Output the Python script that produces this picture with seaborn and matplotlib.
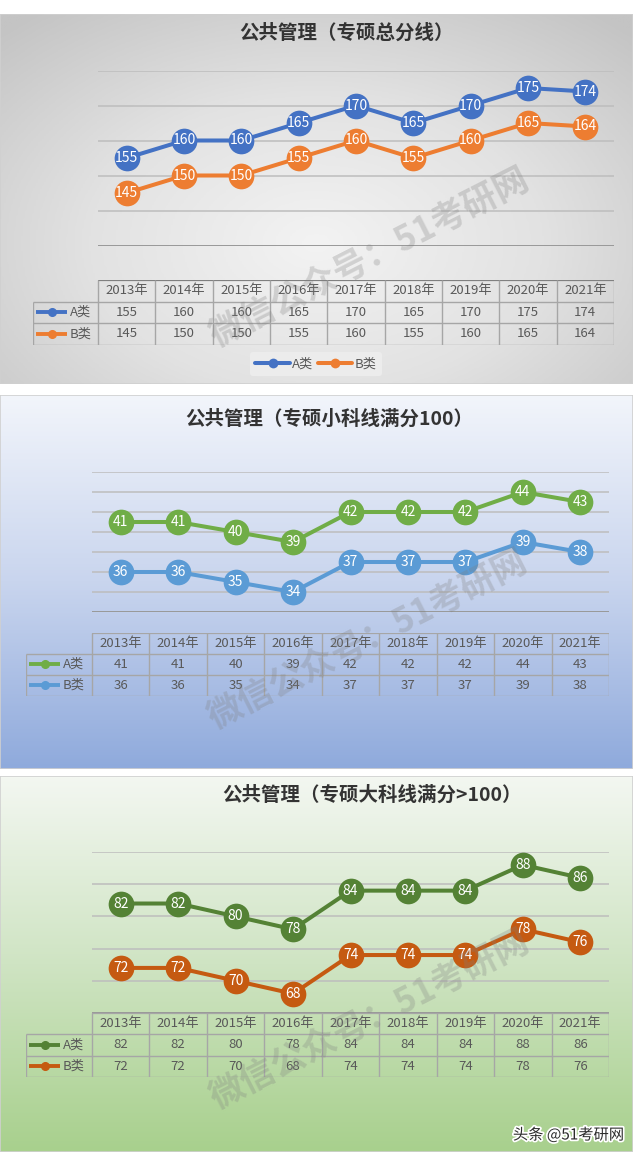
"""
公共管理 专硕分数线: three stacked line charts with data tables below.
"""

import numpy as np
import pandas as pd
import matplotlib

matplotlib.use("Agg")
import matplotlib.pyplot as plt
import matplotlib.patheffects as pe
from matplotlib.colors import LinearSegmentedColormap
import seaborn as sns

W, H = 640, 1153

years = ["2013年", "2014年", "2015年", "2016年", "2017年", "2018年", "2019年", "2020年", "2021年"]
series_names = ["A类", "B类"]

total_a = [155, 160, 160, 165, 170, 165, 170, 175, 174]
total_b = [145, 150, 150, 155, 160, 155, 160, 165, 164]

minor_a = [41, 41, 40, 39, 42, 42, 42, 44, 43]
minor_b = [36, 36, 35, 34, 37, 37, 37, 39, 38]

major_a = [82, 82, 80, 78, 84, 84, 84, 88, 86]
major_b = [72, 72, 70, 68, 74, 74, 74, 78, 76]

titles = [
    "公共管理（专硕总分线）",
    "公共管理（专硕小科线满分100）",
    "公共管理（专硕大科线满分>100）",
]


def fig_rect(x0, y0, x1, y1):
    """Pixel box (top-left origin) -> figure fraction rect."""
    return [x0 / W, 1 - y1 / H, (x1 - x0) / W, (y1 - y0) / H]


def draw_background(fig, box, kind, colors):
    ax = fig.add_axes(fig_rect(*box), zorder=0)
    yy, xx = np.mgrid[0:1:300j, 0:1:300j]
    if kind == "radial":
        r = np.sqrt(((xx - 0.5) * 1.0) ** 2 + ((yy - 0.62) * 0.9) ** 2)
        z = np.clip(r / 0.72, 0, 1)
    else:
        z = yy
    cmap = LinearSegmentedColormap.from_list("bg", colors)
    ax.imshow(z, cmap=cmap, aspect="auto", extent=(0, 1, 1, 0), vmin=0, vmax=1)
    ax.set_xlim(0, 1)
    ax.set_ylim(1, 0)
    ax.axis("off")
    ax.add_patch(
        plt.Rectangle((0, 0), 1, 1, transform=ax.transAxes, fill=False,
                      ec="#d0d0d0", lw=1.2)
    )


def draw_lines(fig, box, a, b, colors, ylim, step, show_legend=False):
    ax = fig.add_axes(fig_rect(*box), zorder=2)
    ax.patch.set_alpha(0)
    df = pd.DataFrame({
        "年份": years * 2,
        "分数": a + b,
        "类别": [series_names[0]] * len(a) + [series_names[1]] * len(b),
    })
    sns.lineplot(data=df, x="年份", y="分数", hue="类别", palette=colors,
                 marker="o", markersize=18.5, markeredgewidth=0, lw=2.9,
                 sort=False, legend=show_legend, ax=ax)
    for vals in (a, b):
        for i, v in enumerate(vals):
            ax.text(i, v, str(v), ha="center", va="center", color="white",
                    fontsize=10, zorder=6)
    ax.set_xlim(-0.5, len(years) - 0.5)
    ax.set_ylim(*ylim)
    ax.set_yticks(np.arange(ylim[0], ylim[1] + 0.1, step))
    ax.grid(axis="y", color="#bdbdbd", lw=1.1)
    ax.grid(axis="x", visible=False)
    ax.axhline(ylim[0], color="#999999", lw=1.4, zorder=1)
    ax.tick_params(length=0, labelleft=False, labelbottom=False)
    ax.set_xlabel("")
    ax.set_ylabel("")
    for s in ax.spines.values():
        s.set_visible(False)
    return ax


def draw_table(fig, box, label_w, a, b, colors, top_color):
    ax = fig.add_axes(fig_rect(*box), zorder=2)
    ax.patch.set_alpha(0)
    left = -0.5 - label_w
    n = len(years)
    ax.set_xlim(left, n - 0.5)
    ax.set_ylim(3, 0)
    ax.axis("off")
    edge = "#a6a6a6"
    txt = "#595959"
    ax.hlines(0, -0.5, n - 0.5, color=top_color, lw=1.6)
    ax.hlines([1, 2, 3], left, n - 0.5, color=edge, lw=1)
    ax.vlines(left, 1, 3, color=edge, lw=1)
    ax.vlines(np.arange(n + 1) - 0.5, 0, 3, color=edge, lw=1)
    for i, y in enumerate(years):
        ax.text(i, 0.5, y, ha="center", va="center", fontsize=9.5, color=txt)
    for row, (name, vals, c) in enumerate(zip(series_names, (a, b), colors), start=1):
        ax.plot([left + 0.06, left + 0.6], [row + 0.5, row + 0.5], color=c, lw=2.8,
                solid_capstyle="butt")
        ax.plot([left + 0.33], [row + 0.5], "o", color=c, ms=5.5)
        ax.text(left + 0.64, row + 0.5, name, ha="left", va="center",
                fontsize=9.5, color=txt)
        for i, v in enumerate(vals):
            ax.text(i, row + 0.5, str(v), ha="center", va="center",
                    fontsize=9.5, color=txt)


def add_title(fig, x, y, text):
    fig.text(x / W, 1 - y / H, text, ha="center", va="center", fontsize=14,
             fontweight="bold", color="#333333", zorder=5)


def add_watermark(fig, x, y):
    fig.text(x / W, 1 - y / H, "微信公众号：51考研网", ha="center", va="center",
             rotation=27, fontsize=25, fontweight="bold", color="#7f7f7f",
             alpha=0.28, zorder=4)


sns.set_theme(style="white")
plt.rcParams["font.family"] = ["Noto Sans CJK SC", "DejaVu Sans"]

fig = plt.figure(figsize=(W / 100, H / 100), dpi=100)
fig.patch.set_facecolor("white")

# panel 1: total score line
blue, orange = "#4472C4", "#ED7D31"
draw_background(fig, (0, 14, 633, 384), "radial", ["#f3f3f3", "#e2e2e2", "#c4c4c4"])
add_title(fig, 347, 33, titles[0])
ax1 = draw_lines(fig, (98, 70.5, 614, 245.5), total_a, total_b, [blue, orange],
                 (130, 180), 10, show_legend=True)
ax1.get_legend().remove()
handles, labels = ax1.get_legend_handles_labels()
fig.legend(handles, labels, loc="center", bbox_to_anchor=(316 / W, 1 - 364 / H),
           ncol=2, frameon=True, facecolor="#ececec", edgecolor="none",
           framealpha=1, markerscale=0.38, fontsize=9.5, handlelength=2.6,
           handletextpad=0.2, columnspacing=0.3, borderpad=0.4,
           labelcolor="#595959")
draw_table(fig, (33, 280, 614, 344.5), 1.134, total_a, total_b, [blue, orange],
           "#808080")
add_watermark(fig, 370, 258)

# panel 2: minor subjects (full mark 100)
green, lblue = "#70AD47", "#5B9BD5"
draw_background(fig, (0, 395, 633, 769), "linear", ["#f2f5fb", "#c9d5ee", "#8faadc"])
add_title(fig, 329, 419, titles[1])
draw_lines(fig, (92, 472, 609, 612), minor_a, minor_b, [green, lblue], (32, 46), 2)
draw_table(fig, (26, 632.5, 609, 696), 1.149, minor_a, minor_b, [green, lblue],
           "#a6a6a6")
add_watermark(fig, 368, 640)

# panel 3: major subjects (full mark >100)
dgreen, dorange = "#548235", "#C55A11"
draw_background(fig, (0, 776, 633, 1152), "linear", ["#f3f7f1", "#cfe4c3", "#a8d08d"])
add_title(fig, 372, 795, titles[2])
draw_lines(fig, (92, 852, 609, 1013), major_a, major_b, [dgreen, dorange], (65, 90), 5)
draw_table(fig, (26, 1013, 609, 1077), 1.149, major_a, major_b, [dgreen, dorange],
           "#a6a6a6")
add_watermark(fig, 370, 1020)

fig.text(624 / W, 1 - 1135 / H, "头条 @51考研网", ha="right", va="center",
         fontsize=11, color="#2b2b2b", zorder=6,
         path_effects=[pe.withStroke(linewidth=2.5, foreground="white")])

fig.savefig("out.png", dpi=100)
